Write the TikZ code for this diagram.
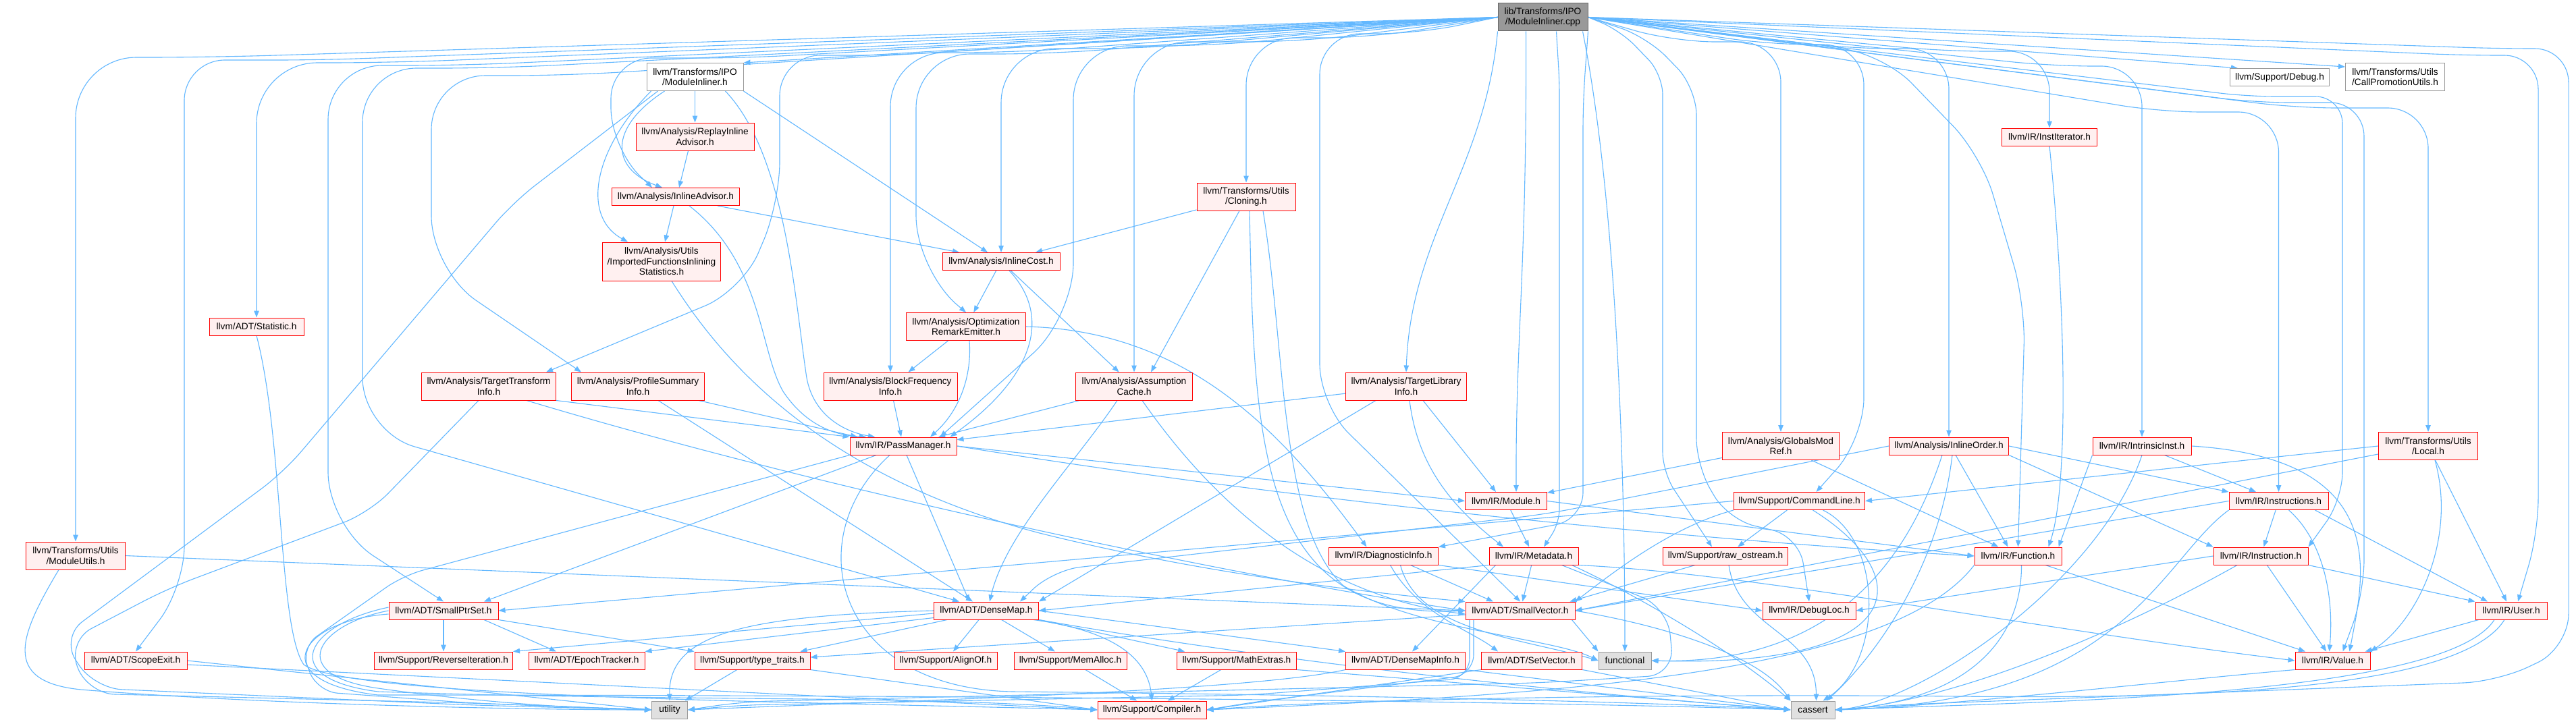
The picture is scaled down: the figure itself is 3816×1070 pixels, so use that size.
\documentclass[tikz,border=0pt]{standalone}
\usepackage{fontspec}
\setmainfont{Liberation Sans}
\usetikzlibrary{arrows.meta,calc}
\definecolor{ecol}{HTML}{63B8FF}
\definecolor{nred}{HTML}{FF0000}
\definecolor{nfill}{HTML}{FFF0F0}
\definecolor{wgray}{HTML}{999999}
\definecolor{sfill}{HTML}{E0E0E0}
\definecolor{sgray}{HTML}{999999}
\definecolor{rfill}{HTML}{999999}
\definecolor{rgray}{HTML}{666666}
\pgfdeclarelayer{bg}
\pgfsetlayers{bg,main}
\newcommand\nodefont{\fontsize{13.7}{15.5}\selectfont}
\tikzset{
 nb/.style={draw, line width=1pt, inner sep=0pt, align=center, minimum height=26pt, font=\nodefont},
 rn/.style={nb, draw=nred, fill=nfill},
 wn/.style={nb, draw=wgray, fill=white},
 sn/.style={nb, draw=sgray, fill=sfill},
 rtn/.style={nb, draw=rgray, fill=rfill},
 two/.style={minimum height=41pt},
 three/.style={minimum height=57pt},
 mw/.style={minimum width=#1pt},
 edg/.style={draw=ecol, line width=1.1pt, -{Triangle[length=10pt,width=7.5pt]}},
}
\begin{document}
\begin{tikzpicture}[x=1pt,y=1pt]
\useasboundingbox (0,0) rectangle (3816,-1070);
\begin{pgfonlayer}{bg}
\fill[white] (0,0) rectangle (3816,-1070);
\end{pgfonlayer}
% ---------- nodes ----------
\node[rtn,two,mw=133] (R) at (2285.5,-25.5) {lib/Transforms/IPO\\/ModuleInliner.cpp};
\node[wn,two,mw=143] (MIh) at (1029.5,-114) {llvm/Transforms/IPO\\/ModuleInliner.h};
\node[rn,two,mw=175] (RIA) at (1029.5,-202.5) {llvm/Analysis/ReplayInline\\Advisor.h};
\node[rn,mw=189] (IA) at (1001,-291.5) {llvm/Analysis/InlineAdvisor.h};
\node[rn,three,mw=175] (IFIS) at (980,-387.5) {llvm/Analysis/Utils\\/ImportedFunctionsInlining\\Statistics.h};
\node[rn,mw=174] (IC) at (1483,-387.5) {llvm/Analysis/InlineCost.h};
\node[rn,two,mw=177] (ORE) at (1431,-484) {llvm/Analysis/Optimization\\RemarkEmitter.h};
\node[rn,two,mw=146] (CL) at (1846,-291.5) {llvm/Transforms/Utils\\/Cloning.h};
\node[rn,mw=140] (ST) at (380,-484) {llvm/ADT/Statistic.h};
\node[rn,mw=141] (II) at (3036,-203) {llvm/IR/InstIterator.h};
\node[wn,mw=147] (DBG) at (3377,-114.5) {llvm/Support/Debug.h};
\node[wn,two,mw=147] (CPU) at (3548,-114) {llvm/Transforms/Utils\\/CallPromotionUtils.h};
\node[rn,two,mw=199] (TTI) at (724,-572.5) {llvm/Analysis/TargetTransform\\Info.h};
\node[rn,two,mw=197] (PSI) at (945,-572.5) {llvm/Analysis/ProfileSummary\\Info.h};
\node[rn,two,mw=198] (BFI) at (1319,-572.5) {llvm/Analysis/BlockFrequency\\Info.h};
\node[rn,two,mw=173] (AC) at (1680,-572.5) {llvm/Analysis/Assumption\\Cache.h};
\node[rn,two,mw=179] (TLI) at (2083,-572.5) {llvm/Analysis/TargetLibrary\\Info.h};
\node[rn,two,mw=173] (GM) at (2638,-661) {llvm/Analysis/GlobalsMod\\Ref.h};
\node[rn,mw=177] (IO) at (2887,-661) {llvm/Analysis/InlineOrder.h};
\node[rn,mw=146] (IN) at (3173,-661) {llvm/IR/IntrinsicInst.h};
\node[rn,two,mw=147] (LO) at (3597,-661) {llvm/Transforms/Utils\\/Local.h};
\node[rn,mw=158] (PM) at (1338,-661) {llvm/IR/PassManager.h};
\node[rn,two,mw=147] (MU) at (112,-823.5) {llvm/Transforms/Utils\\/ModuleUtils.h};
\node[rn,mw=121] (MO) at (2231,-742.5) {llvm/IR/Module.h};
\node[rn,mw=194] (CLn) at (2665.5,-742.5) {llvm/Support/CommandLine.h};
\node[rn,mw=147] (IS) at (3375.5,-742.5) {llvm/IR/Instructions.h};
\node[rn,mw=162] (DI) at (2049.5,-824) {llvm/IR/DiagnosticInfo.h};
\node[rn,mw=132] (MD) at (2272,-824) {llvm/IR/Metadata.h};
\node[rn,mw=185] (RO) at (2556,-824) {llvm/Support/raw\_ostream.h};
\node[rn,mw=129] (FU) at (2989.5,-824) {llvm/IR/Function.h};
\node[rn,mw=140] (I) at (3349,-824) {llvm/IR/Instruction.h};
\node[rn,mw=162] (SPS) at (657,-905) {llvm/ADT/SmallPtrSet.h};
\node[rn,mw=155] (DM) at (1461,-905) {llvm/ADT/DenseMap.h};
\node[rn,mw=162] (SV) at (2252,-905) {llvm/ADT/SmallVector.h};
\node[rn,mw=138] (DL) at (2680,-905) {llvm/IR/DebugLoc.h};
\node[rn,mw=106] (U) at (3720,-905) {llvm/IR/User.h};
\node[rn,mw=152] (SE) at (201,-979) {llvm/ADT/ScopeExit.h};
\node[rn,mw=205] (RI) at (657,-979) {llvm/Support/ReverseIteration.h};
\node[rn,mw=172] (ET) at (869,-979) {llvm/ADT/EpochTracker.h};
\node[rn,mw=171] (TT) at (1114.5,-979) {llvm/Support/type\_traits.h};
\node[rn,mw=152] (AO) at (1401,-979) {llvm/Support/AlignOf.h};
\node[rn,mw=167] (MA) at (1585.5,-979) {llvm/Support/MemAlloc.h};
\node[rn,mw=177] (ME) at (1832,-979) {llvm/Support/MathExtras.h};
\node[rn,mw=177] (DMI) at (2082,-979) {llvm/ADT/DenseMapInfo.h};
\node[rn,mw=149] (SVe) at (2269,-979) {llvm/ADT/SetVector.h};
\node[sn,mw=78] (FN) at (2407,-979) {functional};
\node[rn,mw=111] (V) at (3455.5,-979) {llvm/IR/Value.h};
\node[sn,mw=53] (UT) at (992,-1052) {utility};
\node[rn,mw=161] (CO) at (1706.5,-1052) {llvm/Support/Compiler.h};
\node[sn,mw=65] (CA) at (2685.5,-1052) {cassert};
% ---------- edges ----------
\begin{pgfonlayer}{bg}
% root, left fan
\draw[edg] (R.west) -- (MIh.north east);
\draw[edg,rounded corners=90] (R.west) -- (312,-85) -| (MU.north);
\draw[edg,rounded corners=60] (R.west) -- (473,-89) -| (273,-870) -- (SE.north);
\draw[edg,rounded corners=90] (R.west) -- (580,-93) -| (ST.north);
\draw[edg,rounded corners=80] (R.west) -- (686,-97) -| (486,-780) -- (SPS.north);
\draw[edg,rounded corners=80] (R.west) -- (737,-101) -| (537,-640) -- ($(DM.north)+(-40,0)$);
\draw[edg,rounded corners=80] (R.west) -- (839,-112) -| (639,-400) -- ($(PSI.north west)+(15,0)$);
\draw[edg,rounded corners=60] (R.west) -- (1320,-82) -| (1155,-300) -- (1100,-430) -- ($(TTI.north east)+(-15,0)$);
\draw[edg,rounded corners=60] (R.west) -- (1100,-86) -| (905,-220) -- ($(IA.north)+(-35,0)$);
\draw[edg,rounded corners=80] (R.west) -- (1560,-80) -| (1357,-400) -- (ORE.north);
\draw[edg,rounded corners=80] (R.west) -- (1700,-72) -| (IC.north);
\draw[edg,rounded corners=80] (R.west) -- (1500,-78) -| (BFI.north);
\draw[edg,rounded corners=80] (R.west) -- (1800,-68) -| (1590,-470) -- ($(PM.north east)+(-25,0)$);
\draw[edg,rounded corners=80] (R.west) -- (1930,-62) -| (AC.north);
\draw[edg,rounded corners=70] (R.west) -- (2030,-56) -| (CL.north);
\draw[edg,rounded corners=60] (R.west) -- (2100,-50) -| (1955,-600) -- (SV.north);
\draw[edg] (R.south west) .. controls (2200,-250) and (2090,-350) .. (TLI.north);
% root, downwards and right fan
\draw[edg] ($(R.south)+(-25,0)$) .. controls (2262,-400) and (2245,-500) .. ($(MO.north)+(15,0)$);
\draw[edg,rounded corners=20] ($(R.south)+(20,0)$) -- (2310,-120) -- (2310,-775) -- ($(MD.north)+(15,0)$);
\draw[edg,rounded corners=40] (R.south east) -- (2345,-150) -- (2345,-770) -- (DI.north east);
\draw[edg] ($(R.south east)+(-8,0)$) .. controls (2395,-300) and (2407,-700) .. (FN.north);
\draw[edg,rounded corners=30] (R.east) -- (2400,-45) -- (2463,-110) -- (2463,-700) -- ($(RO.north)+(-20,0)$);
\draw[edg,rounded corners=40] (R.east) -- (2440,-55) -- (2513,-130) -- (2513,-690) -- (2560,-770) -- (2665,-795) -- (DL.north);
\draw[edg,rounded corners=60] (R.east) -- (2480,-62) -| (GM.north);
\draw[edg,rounded corners=60] (R.east) -- (2620,-66) -| (2761,-650) -- ($(CLn.north)+(25,0)$);
\draw[edg,rounded corners=60] (R.east) -- (2740,-72) -| (IO.north);
\draw[edg,rounded corners=60] (R.east) -- (2790,-80) -- (2935,-230) -- (3000,-450) -- (FU.north);
\draw[edg,rounded corners=60] (R.east) -- (2880,-76) -| (II.north);
\draw[edg,rounded corners=60] (R.east) -- (3040,-98) -| (IN.north);
\draw[edg,rounded corners=60] (R.east) -- (3200,-166) -| (IS.north);
\draw[edg,rounded corners=40] (R.east) -- (3330,-143) -| (3470,-740) -- (I.north east);
\draw[edg,rounded corners=50] (R.east) -- (3340,-152) -| (3502,-880) -- ($(V.north)+(15,0)$);
\draw[edg,rounded corners=60] (R.east) -- (3400,-160) -| (LO.north);
\draw[edg,rounded corners=50] (R.east) -- (3650,-82) -| (3760,-790) -- ($(U.north)+(10,0)$);
\draw[edg,rounded corners=50] (R.east) -- (3700,-72) -| (3805,-960) -- (3700,-1010) -- (2800,-1045) -- (CA.east);
\draw[edg] (R.east) -- ($(DBG.north west)+(12,0)$);
\draw[edg] (R.east) -- ($(CPU.north west)+(0,-6)$);
% ModuleInliner.h
\draw[edg] (MIh) -- (RIA);
\draw[edg] ($(MIh.south)+(-45,0)$) .. controls (900,-190) and (905,-250) .. ($(IA.north)+(-20,0)$);
\draw[edg] ($(MIh.south)+(-65,0)$) .. controls (880,-220) and (860,-320) .. ($(IFIS.north)+(-50,0)$);
\draw[edg] (MIh.south east) -- ($(IC.north)+(-20,0)$);
\draw[edg] ($(MIh.south)+(45,0)$) .. controls (1165,-230) and (1178,-450) .. (1195,-560) .. controls (1205,-615) and (1250,-640) .. ($(PM.north)+(-42,0)$);
\draw[edg,rounded corners=40] ($(MIh.south)+(-55,0)$) -- (760,-300) -- (420,-700) -- (90,-945) -- (140,-1020) -- (700,-1045) -- (UT.west);
% ReplayInlineAdvisor, InlineAdvisor, Imported...
\draw[edg] ($(RIA.south)+(-10,0)$) -- ($(IA.north)+(5,0)$);
\draw[edg] ($(IA.south)+(-3,0)$) -- ($(IFIS.north)+(5,0)$);
\draw[edg] ($(IA.south)+(62,0)$) -- ($(IC.north)+(-62,0)$);
\draw[edg] ($(IA.south)+(20,0)$) .. controls (1130,-390) and (1125,-520) .. (1160,-580) .. controls (1190,-625) and (1230,-645) .. ($(PM.north)+(-55,0)$);
\draw[edg] ($(IFIS.south)+(15,0)$) .. controls (1060,-520) and (1200,-700) .. (1540,-790) .. controls (1800,-855) and (2050,-880) .. (SV.north west);
% InlineCost, Cloning
\draw[edg] (IC) -- (ORE);
\draw[edg] (IC) -- (AC);
\draw[edg] ($(IC.south)+(12,0)$) .. controls (1560,-470) and (1530,-560) .. ($(PM.north east)+(-10,0)$);
\draw[edg] (CL) -- (IC);
\draw[edg] ($(CL.south)+(-10,0)$) -- ($(AC.north)+(25,0)$);
\draw[edg] ($(CL.south)+(5,0)$) .. controls (1858,-650) and (1860,-920) .. (SV.west);
\draw[edg] ($(CL.south)+(25,0)$) .. controls (1905,-520) and (1895,-780) .. (1990,-868) .. controls (2100,-935) and (2300,-945) .. (FN.west);
% OptimizationRemarkEmitter
\draw[edg] (ORE) -- (BFI);
\draw[edg] (ORE.east) .. controls (1760,-490) and (1900,-640) .. ($(DI.north)+(-25,0)$);
\draw[edg] ($(ORE.south)+(5,0)$) .. controls (1440,-560) and (1420,-610) .. ($(PM.north)+(40,0)$);
% BFI, TTI, PSI
\draw[edg] (BFI) -- (PM);
\draw[edg] (TTI.south east) -- (PM.north west);
\draw[edg,rounded corners=40] ($(TTI.south)+(-15,0)$) -- (547,-760) -- (249,-872) -- (100,-950) -- (130,-1028) -- (700,-1042) -- (UT.west);
\draw[edg] ($(TTI.south)+(56,0)$) .. controls (1200,-720) and (1800,-850) .. (SV.west);
\draw[edg] ($(PSI.south)+(90,0)$) -- ($(PM.north)+(-68,0)$);
\draw[edg] ($(PSI.south)+(30,0)$) -- ($(DM.north)+(-20,0)$);
% AssumptionCache
\draw[edg] (AC) -- (PM);
\draw[edg] ($(AC.south)+(-25,0)$) .. controls (1590,-690) and (1490,-790) .. ($(DM.north)+(5,0)$);
\draw[edg] ($(AC.south)+(12,0)$) .. controls (1780,-720) and (1930,-880) .. ($(SV.west)+(0,-5)$);
% TargetLibraryInfo
\draw[edg] (TLI) -- (PM);
\draw[edg] ($(TLI.south)+(25,0)$) -- ($(MO.north)+(-15,0)$);
\draw[edg] ($(TLI.south)+(-45,0)$) -- (DM.north east);
\draw[edg] ($(TLI.south)+(5,0)$) .. controls (2100,-690) and (2150,-750) .. ($(MD.north)+(-45,0)$);
% GlobalsModRef, InlineOrder, IntrinsicInst, Local
\draw[edg] (GM) -- (MO);
\draw[edg] (GM) -- (FU);
\draw[edg] ($(IO.south)+(10,0)$) -- ($(FU.north)+(-15,0)$);
\draw[edg,rounded corners=40] (IO.west) -- (2290,-762) -- (1560,-845) -- ($(DM.north)+(50,0)$);
\draw[edg] (IO.east) -- (IS.north west);
\draw[edg] (IO.south east) -- (I.north west);
\draw[edg] ($(IO.south)+(5,0)$) .. controls (2870,-860) and (2760,-990) .. ($(CA.north)+(20,0)$);
\draw[edg] ($(IO.south)+(-10,0)$) .. controls (2820,-850) and (2700,-985) .. (FN.east);
\draw[edg] (IN) -- (IS);
\draw[edg] (IN.south west) -- ($(FU.north east)+(-5,0)$);
\draw[edg] (IN.east) .. controls (3550,-680) and (3500,-860) .. ($(V.north)+(25,0)$);
\draw[edg] (IN.south) .. controls (3110,-860) and (2850,-1040) .. (CA.east);
\draw[edg] (LO.west) -- (CLn.east);
\draw[edg] ($(LO.west)+(0,-12)$) -- (SV.east);
\draw[edg] (LO) -- (U);
\draw[edg] ($(LO.south)+(10,0)$) .. controls (3640,-800) and (3580,-920) .. (V.north east);
% ModuleUtils, Statistic, ScopeExit
\draw[edg] (MU.east) -- (SV.west);
\draw[edg] ($(MU.south)+(-25,0)$) .. controls (30,-940) and (0,-1010) .. (120,-1022) .. controls (400,-1045) and (800,-1052) .. (UT.west);
\draw[edg] (ST.south) .. controls (420,-650) and (412,-930) .. (450,-985) .. controls (520,-1035) and (1200,-1040) .. (CO.west);
\draw[edg] (SE.east) -- (UT.west);
\draw[edg] ($(SE.east)+(0,-6)$) -- (CO.west);
% SmallPtrSet
\draw[edg] (SPS) -- (RI);
\draw[edg] ($(SPS.south)+(60,0)$) -- ($(ET.north)+(-45,0)$);
\draw[edg] (SPS.south east) -- (TT.north west);
\draw[edg] (SPS.west) .. controls (470,-925) and (420,-1000) .. (560,-1020) .. controls (700,-1040) and (850,-1050) .. (UT.west);
\draw[edg] ($(SPS.west)+(0,5)$) .. controls (455,-925) and (405,-1005) .. (560,-1025) .. controls (1000,-1040) and (1400,-1030) .. (CO.west);
\draw[edg] ($(SPS.west)+(0,-5)$) .. controls (440,-920) and (390,-1010) .. (560,-1030) .. controls (1500,-1030) and (2300,-1040) .. (CA.west);
% DenseMap
\draw[edg] ($(DM.west)+(0,-4)$) -- (RI.north east);
\draw[edg] ($(DM.south west)+(0,3)$) -- (ET.north east);
\draw[edg] ($(DM.south west)+(20,0)$) -- ($(TT.north east)+(-15,0)$);
\draw[edg] (DM) -- (AO);
\draw[edg] (DM) -- (MA);
\draw[edg] (DM.south east) -- ($(ME.north west)+(12,0)$);
\draw[edg] (DM.east) -- (DMI.north west);
\draw[edg] ($(DM.south east)+(-8,0)$) .. controls (1650,-935) and (1700,-975) .. (CO.north);
\draw[edg] (DM.west) .. controls (1100,-912) and (990,-940) .. (UT.north);
\draw[edg] (DM.south east) .. controls (2000,-1000) and (2500,-1040) .. (CA.west);
% SmallVector
\draw[edg,rounded corners=30] ($(SV.south)+(-69,0)$) -- (2183,-1000) -- (1860,-1040) -- (CO.east);
\draw[edg] ($(SV.west)+(0,-6)$) -- ($(TT.east)+(0,5)$);
\draw[edg] (SV.east) .. controls (2480,-930) and (2610,-975) .. (CA.north west);
\draw[edg] ($(SV.south east)+(-5,0)$) -- (FN.north west);
\draw[edg,rounded corners=30] ($(SV.south)+(-75,0)$) -- (2177,-1005) -- (1850,-1030) -- (1100,-1045) -- (UT.east);
% PassManager
\draw[edg] ($(PM.south)+(5,0)$) -- ($(DM.north)+(-25,0)$);
\draw[edg] ($(PM.south)+(-40,0)$) -- ($(SPS.north)+(60,0)$);
\draw[edg] (PM.east) .. controls (1900,-740) and (2500,-800) .. (FU.west);
\draw[edg] (PM.east) -- (MO.west);
\draw[edg] ($(PM.south)+(-20,0)$) .. controls (1180,-800) and (1240,-1020) .. (1500,-1025) .. controls (2000,-1030) and (2450,-1040) .. (CA.west);
\draw[edg,rounded corners=30] (PM.south west) -- (597,-853) -- (445,-960) -- (470,-1025) -- (700,-1042) -- (UT.west);
% Module, Metadata, DiagnosticInfo
\draw[edg] (MO) -- (MD);
\draw[edg] (MO.east) -- (FU.west);
\draw[edg] (MD.south west) -- (DM.east);
\draw[edg] ($(MD.south west)+(10,0)$) -- ($(DMI.north)+(10,0)$);
\draw[edg] (MD) -- (SV);
\draw[edg] (MD.south east) .. controls (2600,-850) and (3000,-930) .. (V.west);
\draw[edg] ($(MD.south east)+(-10,0)$) .. controls (2420,-880) and (2560,-960) .. (CA.north west);
\draw[edg,rounded corners=40] ($(MD.south east)+(-25,0)$) -- (2470,-900) -- (2480,-1000) -- (2280,-1012) -- (1100,-1040) -- (UT.east);
\draw[edg] ($(DI.south)+(40,0)$) -- ($(SV.north)+(-40,0)$);
\draw[edg] (DI.south east) -- (DL.west);
\draw[edg] ($(DI.south)+(10,0)$) .. controls (2100,-910) and (2180,-935) .. ($(SVe.north)+(-50,0)$);
\draw[edg] ($(DI.south)+(25,0)$) .. controls (2100,-935) and (2250,-945) .. (FN.west);
% CommandLine, raw_ostream
\draw[edg] (CLn) -- (RO);
\draw[edg] (CLn.west) -- (SPS.east);
\draw[edg] (CLn.south west) .. controls (2480,-780) and (2400,-840) .. (SV.north east);
\draw[edg] ($(CLn.south)+(35,0)$) .. controls (2790,-800) and (2790,-980) .. ($(CA.north)+(15,0)$);
\draw[edg] ($(CLn.south)+(20,0)$) .. controls (2850,-860) and (2820,-990) .. (FN.east);
\draw[edg] ($(RO.south)+(-45,0)$) -- ($(SV.north east)+(-8,0)$);
\draw[edg] ($(RO.south)+(5,0)$) .. controls (2575,-935) and (2690,-935) .. ($(CA.north)+(5,0)$);
% Function
\draw[edg] (FU) -- (V);
\draw[edg] ($(FU.south)+(5,0)$) .. controls (2995,-960) and (2900,-1040) .. (CA.east);
\draw[edg] (FU.south west) .. controls (2800,-1000) and (2300,-1030) .. (CO.east);
% Instructions, Instruction, User, Value
\draw[edg] (IS) -- (I);
\draw[edg] ($(IS.south east)+(-20,0)$) -- ($(U.north)+(-35,0)$);
\draw[edg] ($(IS.south)+(15,0)$) .. controls (3440,-800) and (3458,-880) .. ($(V.north)+(-5,0)$);
\draw[edg] (IS.west) -- (SV.east);
\draw[edg] (IS.south west) .. controls (3200,-830) and (3150,-1040) .. (CA.east);
\draw[edg] (I.south east) -- (U.north west);
\draw[edg] (I) -- (V);
\draw[edg] (I.west) -- (DL.east);
\draw[edg] ($(I.south)+(-35,0)$) .. controls (3150,-930) and (2900,-1040) .. (CA.east);
\draw[edg] (U) -- (V);
\draw[edg] ($(U.south)+(-25,0)$) .. controls (3620,-1035) and (3000,-1040) .. (CA.east);
\draw[edg] ($(U.south)+(-10,0)$) .. controls (3640,-1030) and (3200,-1035) .. (2900,-1032) .. controls (2500,-1028) and (2000,-1035) .. (CO.east);
\draw[edg] (V.south west) .. controls (3200,-1010) and (2900,-1045) .. (CA.east);
% InstIterator, SetVector, bottom rows
\draw[edg] (II.south) .. controls (3060,-450) and (3065,-720) .. ($(FU.north)+(45,0)$);
\draw[edg] (SVe.south west) -- (CO.east);
\draw[edg] (SVe.south east) -- (CA.west);
\draw[edg] (TT) -- (UT);
\draw[edg] (TT.south east) -- (CO.west);
\draw[edg] (MA) -- (CO);
\draw[edg] (ME) -- (CO);
\draw[edg] (ME.south east) -- (CA.west);
\draw[edg] (DMI.south east) -- (CA.west);
\draw[edg] (DMI.south west) .. controls (1850,-1025) and (1300,-1040) .. (UT.east);
\end{pgfonlayer}
\end{tikzpicture}
\end{document}
